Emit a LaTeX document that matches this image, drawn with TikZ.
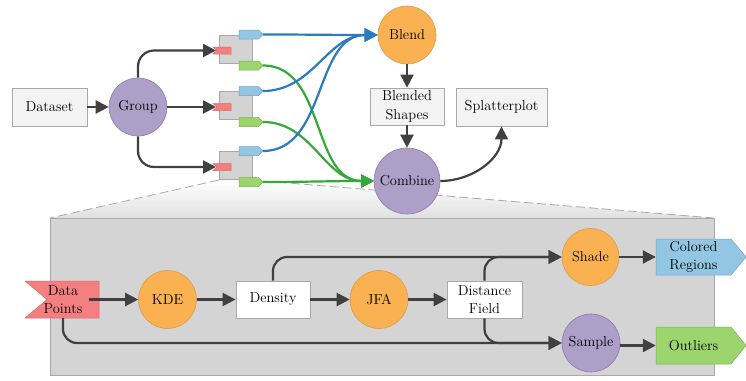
\documentclass[tikz,border=0pt]{standalone}
\usepackage{fontspec}
\usetikzlibrary{arrows.meta}
\definecolor{arr}{HTML}{404040}
\definecolor{purp}{HTML}{AE9FC8}
\definecolor{purpd}{HTML}{8A7AA8}
\definecolor{orng}{HTML}{F9B152}
\definecolor{orngd}{HTML}{DA9C48}
\definecolor{boxf}{HTML}{F3F3F3}
\definecolor{boxd}{HTML}{A8A8A8}
\definecolor{redf}{HTML}{F47F80}
\definecolor{redd}{HTML}{D96A6A}
\definecolor{bluef}{HTML}{93C6E3}
\definecolor{blued}{HTML}{6FA5C8}
\definecolor{greenf}{HTML}{9CD56E}
\definecolor{greend}{HTML}{78B24F}
\definecolor{bline}{HTML}{2B7BBE}
\definecolor{gline}{HTML}{35A83A}
\definecolor{panel}{HTML}{D4D4D4}
\definecolor{blockf}{HTML}{D3D3D3}
\tikzset{
  txt/.style={font=\rmfamily\fontsize{14.4}{18.5}\selectfont, text=black, align=center, inner sep=0pt},
  procbox/.style={txt, rectangle, draw=boxd, fill=boxf, line width=0.8pt},
  pcircle/.style={txt, circle, draw=purpd, fill=purp, line width=0.6pt, minimum size=58pt},
  ocircle/.style={txt, circle, draw=orngd, fill=orng, line width=0.6pt, minimum size=58pt},
  tip/.style={-{Triangle[length=13pt,width=13pt]}},
  flow/.style={draw=arr, line width=2.2pt, tip},
  bflow/.style={draw=bline, line width=2.2pt, tip},
  gflow/.style={draw=gline, line width=2.2pt, tip},
  sqblock/.style={rectangle, draw=boxd, fill=blockf, line width=0.6pt, minimum width=33pt, minimum height=28pt, inner sep=0pt},
  zoomline/.style={draw=boxd, line width=0.8pt, dash pattern=on 9pt off 4pt},
}
\begin{document}
\begin{tikzpicture}[x=1pt,y=1pt]
\useasboundingbox (0,0) rectangle (746,-380);

% zoom trapezoid and panel
\shade[top color=white, bottom color=black!12] (219,-180) -- (252,-180) -- (714,-218) -- (50,-218) -- cycle;
\draw[zoomline] (219,-180) -- (50,-218);
\draw[zoomline] (252,-180) -- (714,-218);
\draw[draw=boxd, fill=panel, line width=0.8pt] (50,-218) rectangle (714,-375);

% top row
\node[procbox, minimum width=75pt, minimum height=38pt] (dataset) at (49.5,-107) {Dataset};
\node[pcircle] (group) at (138,-107) {Group};

\foreach \i/\c in {1/49,2/105.5,3/165.5}{
  \node[sqblock] (sq\i) at (235.5,-\c) {};
  \draw[draw=redd, fill=redf, line width=0.5pt] (213,{-\c+2}) -- (231,{-\c+2}) -- (231,{-\c-5}) -- (213,{-\c-5}) -- (217,{-\c-1.5}) -- cycle;
  \draw[draw=blued, fill=bluef, line width=0.5pt] (239,{-\c+19}) -- (258.5,{-\c+19}) -- (263,{-\c+14.5}) -- (258.5,{-\c+10}) -- (239,{-\c+10}) -- cycle;
  \draw[draw=greend, fill=greenf, line width=0.5pt] (239,{-\c-12}) -- (258.5,{-\c-12}) -- (263,{-\c-16.5}) -- (258.5,{-\c-21}) -- (239,{-\c-21}) -- cycle;
  \coordinate (rin\i) at (216,{-\c-1.5});
  \coordinate (bout\i) at (263,{-\c+14.5});
  \coordinate (gout\i) at (263,{-\c-16.5});
}

\node[ocircle] (blend) at (407,-35) {Blend};
\node[procbox, minimum width=74pt, minimum height=37pt] (bshapes) at (407,-106.5) {Blended\\Shapes};
\node[procbox, minimum width=91pt, minimum height=38pt] (splat) at (501.5,-107) {Splatterplot};

% green and blue connectors
\foreach \i in {1,2,3}{
  \draw[gflow] (gout\i) to[out=0,in=180] (374,-181);
}
\foreach \i in {1,2,3}{
  \draw[bflow] (bout\i) to[out=0,in=180] (blend.west);
}

\node[pcircle, minimum size=66pt] (combine) at (407,-181) {Combine};

\draw[flow] (dataset.east) -- (group.west);
\draw[flow, rounded corners=16pt] (group.north) |- (rin1);
\draw[flow] (group.east) -- (rin2);
\draw[flow, rounded corners=16pt] (group.south) |- (rin3);
\draw[flow] (blend.south) -- (bshapes.north);
\draw[flow] (bshapes.south) -- (combine.north);
\draw[flow] (combine.east) to[out=0,in=-90] (splat.south);

% panel content
\draw[draw=redd, fill=redf, line width=0.5pt] (25,-281) -- (99,-281) -- (99,-318) -- (25,-318) -- (47,-299.5) -- cycle;
\node[txt, minimum width=52pt, minimum height=37pt] (dp) at (63,-299.5) {Data\\Points};
\node[ocircle] (kde) at (167.5,-299.5) {KDE};
\node[procbox, fill=white, minimum width=74pt, minimum height=37pt] (dens) at (273,-299.5) {Density};
\node[ocircle] (jfa) at (379,-299.5) {JFA};
\node[procbox, fill=white, minimum width=75pt, minimum height=37pt] (dfield) at (484.5,-299.5) {Distance\\Field};
\node[ocircle, minimum size=57pt] (shade) at (590.5,-257) {Shade};
\node[pcircle] (sample) at (591,-343) {Sample};

\draw[draw=blued, fill=bluef, line width=0.5pt] (656,-239) -- (731,-239) -- (746,-257) -- (731,-275) -- (656,-275) -- cycle;
\node[txt, minimum width=75pt, minimum height=36pt] (creg) at (693.5,-257) {Colored\\Regions};
\draw[draw=greend, fill=greenf, line width=0.5pt] (656,-327) -- (731,-327) -- (746,-345.5) -- (731,-364) -- (656,-364) -- cycle;
\node[txt, minimum width=75pt, minimum height=37pt] (outl) at (693.5,-345.5) {Outliers};

\draw[flow] (dp.east) -- (kde.west);
\draw[flow] (kde.east) -- (dens.west);
\draw[flow] (dens.east) -- (jfa.west);
\draw[flow] (jfa.east) -- (dfield.west);
\draw[flow, rounded corners=14pt] (dens.north) |- (shade.west);
\draw[flow, rounded corners=14pt] (dfield.north) |- (shade.west);
\draw[flow, rounded corners=14pt] (dp.south) |- (sample.west);
\draw[flow, rounded corners=14pt] (dfield.south) |- (sample.west);
\draw[flow] (shade.east) -- (creg.west);
\draw[flow] (sample.east |- outl.west) -- (outl.west);
\end{tikzpicture}
\end{document}
